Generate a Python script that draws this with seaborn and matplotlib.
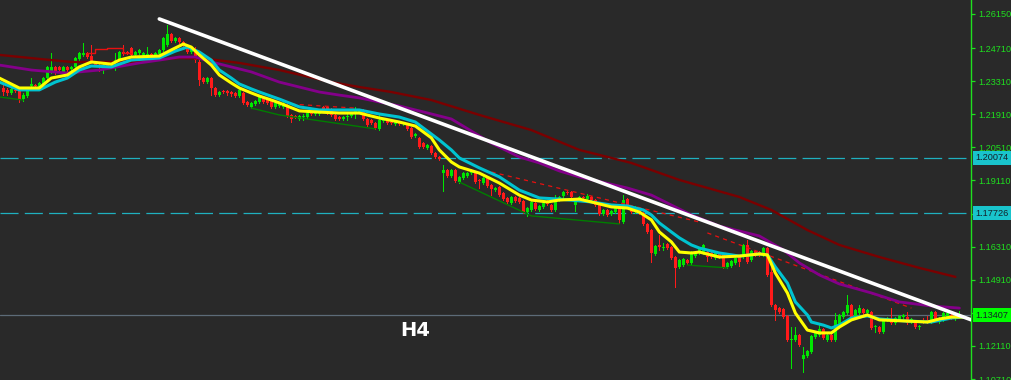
import numpy as np
import pandas as pd
import matplotlib
matplotlib.use("Agg")
import matplotlib.pyplot as plt
import seaborn as sns

# ---------------- data (prices x 1e4) ----------------
OPEN = [12302, 12294, 12281, 12294, 12294, 12255, 12268, 12310, 12315, 12302,
        12319, 12344, 12370, 12391, 12391, 12370, 12391, 12382, 12391, 12425,
        12442, 12450, 12437, 12412, 12399, 12378, 12403, 12399, 12408, 12412,
        12454, 12454, 12471, 12442, 12450, 12442, 12442, 12446, 12442, 12446,
        12463, 12484, 12530, 12501, 12513, 12497, 12475, 12454, 12454, 12412,
        12344, 12327, 12344, 12302, 12272, 12289, 12289, 12285, 12281, 12268,
        12281, 12243, 12222, 12234, 12243, 12260, 12255, 12247, 12222, 12226,
        12222, 12230, 12188, 12183, 12171, 12179, 12179, 12196, 12192, 12192,
        12222, 12222, 12213, 12188, 12179, 12171, 12179, 12183, 12196, 12200,
        12209, 12171, 12167, 12154, 12129, 12162, 12167, 12158, 12150, 12158,
        12150, 12145, 12133, 12099, 12091, 12069, 12048, 12057, 12027, 12010,
        11942, 11955, 11930, 11955, 11904, 11921, 11930, 11942, 11947, 11913,
        11900, 11926, 11892, 11870, 11883, 11858, 11837, 11816, 11841, 11837,
        11824, 11777, 11786, 11816, 11786, 11799, 11824, 11807, 11786, 11828,
        11845, 11862, 11862, 11807, 11828, 11841, 11832, 11841, 11828, 11807,
        11769, 11786, 11769, 11777, 11807, 11735, 11832, 11803, 11777, 11786,
        11773, 11727, 11701, 11600, 11638, 11625, 11642, 11629, 11587, 11545,
        11553, 11574, 11562, 11591, 11604, 11604, 11608, 11604, 11583, 11604,
        11596, 11545, 11549, 11562, 11587, 11587, 11638, 11574, 11612, 11608,
        11596, 11625, 11524, 11384, 11371, 11367, 11338, 11236, 11236, 11257,
        11156, 11168, 11185, 11249, 11257, 11283, 11236, 11257, 11236, 11291,
        11333, 11350, 11384, 11333, 11350, 11367, 11350, 11354, 11291, 11291,
        11270, 11321, 11321, 11308, 11321, 11333, 11333, 11312, 11312, 11291,
        11316, 11321, 11312, 11354, 11312, 11321, 11333, 11342, 11325, 11333]

CLOSE = [12285, 12281, 12298, 12289, 12255, 12272, 12302, 12319, 12310, 12323,
         12344, 12391, 12391, 12370, 12378, 12391, 12378, 12391, 12429, 12450,
         12450, 12433, 12412, 12399, 12395, 12399, 12395, 12408, 12420, 12454,
         12446, 12450, 12442, 12454, 12463, 12450, 12446, 12437, 12450, 12463,
         12513, 12530, 12501, 12513, 12497, 12484, 12454, 12471, 12420, 12336,
         12327, 12344, 12302, 12272, 12285, 12285, 12281, 12277, 12268, 12294,
         12239, 12230, 12239, 12247, 12264, 12243, 12239, 12222, 12239, 12239,
         12239, 12183, 12171, 12179, 12183, 12183, 12196, 12192, 12196, 12200,
         12209, 12196, 12188, 12171, 12171, 12179, 12183, 12192, 12209, 12209,
         12171, 12145, 12154, 12133, 12167, 12167, 12154, 12154, 12158, 12150,
         12154, 12129, 12095, 12107, 12052, 12052, 12061, 12027, 12010, 12002,
         11955, 11930, 11955, 11909, 11926, 11942, 11942, 11955, 11904, 11909,
         11921, 11887, 11875, 11879, 11849, 11832, 11820, 11841, 11824, 11820,
         11777, 11794, 11820, 11790, 11803, 11816, 11811, 11786, 11837, 11841,
         11862, 11858, 11841, 11828, 11841, 11837, 11845, 11828, 11807, 11769,
         11786, 11765, 11782, 11794, 11744, 11828, 11803, 11777, 11799, 11773,
         11727, 11693, 11604, 11634, 11629, 11629, 11625, 11583, 11541, 11574,
         11579, 11562, 11608, 11608, 11621, 11638, 11587, 11587, 11604, 11587,
         11545, 11562, 11570, 11583, 11566, 11638, 11566, 11612, 11596, 11596,
         11625, 11511, 11384, 11363, 11354, 11333, 11236, 11240, 11257, 11215,
         11173, 11190, 11253, 11270, 11283, 11245, 11257, 11236, 11321, 11342,
         11354, 11384, 11329, 11363, 11371, 11350, 11363, 11287, 11295, 11270,
         11321, 11329, 11308, 11329, 11338, 11342, 11308, 11325, 11291, 11295,
         11312, 11312, 11354, 11321, 11329, 11350, 11350, 11329, 11338, 11341]

HIGH = [12315, 12302, 12306, 12298, 12298, 12281, 12306, 12344, 12319, 12327,
        12348, 12395, 12450, 12395, 12395, 12395, 12395, 12395, 12433, 12454,
        12492, 12454, 12484, 12416, 12403, 12403, 12408, 12412, 12450, 12458,
        12484, 12458, 12475, 12458, 12467, 12454, 12475, 12450, 12454, 12467,
        12518, 12568, 12535, 12518, 12518, 12501, 12484, 12475, 12475, 12420,
        12348, 12348, 12348, 12306, 12289, 12294, 12294, 12289, 12285, 12298,
        12285, 12247, 12243, 12251, 12268, 12264, 12260, 12251, 12243, 12243,
        12243, 12234, 12192, 12188, 12188, 12192, 12200, 12200, 12200, 12205,
        12226, 12226, 12217, 12192, 12183, 12183, 12196, 12196, 12222, 12213,
        12213, 12175, 12171, 12158, 12188, 12171, 12171, 12162, 12162, 12162,
        12158, 12150, 12137, 12112, 12095, 12074, 12065, 12061, 12031, 12014,
        11976, 11959, 11959, 11959, 11930, 11947, 11947, 11959, 11951, 11917,
        11926, 11930, 11896, 11883, 11887, 11862, 11841, 11845, 11845, 11841,
        11828, 11799, 11824, 11820, 11807, 11820, 11828, 11811, 11849, 11845,
        11866, 11866, 11866, 11832, 11845, 11845, 11854, 11845, 11832, 11811,
        11790, 11790, 11786, 11799, 11811, 11849, 11837, 11807, 11803, 11790,
        11777, 11731, 11706, 11638, 11680, 11646, 11646, 11634, 11591, 11579,
        11583, 11579, 11612, 11612, 11625, 11642, 11612, 11608, 11608, 11608,
        11600, 11566, 11574, 11587, 11591, 11642, 11659, 11617, 11617, 11612,
        11629, 11629, 11557, 11388, 11376, 11371, 11342, 11291, 11291, 11261,
        11206, 11194, 11257, 11274, 11299, 11287, 11261, 11261, 11350, 11346,
        11359, 11426, 11388, 11367, 11384, 11371, 11367, 11359, 11299, 11295,
        11325, 11333, 11371, 11333, 11342, 11346, 11354, 11329, 11316, 11299,
        11329, 11338, 11359, 11359, 11333, 11354, 11354, 11346, 11342, 11359]

LOW = [12272, 12272, 12277, 12285, 12243, 12247, 12264, 12306, 12302, 12298,
       12315, 12340, 12365, 12361, 12374, 12365, 12370, 12378, 12387, 12420,
       12437, 12429, 12408, 12395, 12374, 12365, 12391, 12395, 12378, 12408,
       12442, 12446, 12437, 12437, 12446, 12437, 12433, 12433, 12437, 12442,
       12458, 12480, 12497, 12497, 12492, 12480, 12450, 12450, 12412, 12315,
       12323, 12323, 12272, 12268, 12268, 12281, 12272, 12268, 12264, 12264,
       12234, 12226, 12217, 12230, 12239, 12239, 12234, 12217, 12217, 12222,
       12217, 12179, 12158, 12175, 12167, 12167, 12175, 12188, 12188, 12188,
       12205, 12192, 12183, 12167, 12167, 12167, 12167, 12179, 12175, 12196,
       12167, 12141, 12150, 12129, 12124, 12158, 12150, 12150, 12145, 12145,
       12145, 12124, 12091, 12095, 12048, 12048, 12044, 12023, 12006, 11997,
       11866, 11926, 11926, 11904, 11900, 11917, 11926, 11938, 11900, 11879,
       11896, 11883, 11849, 11866, 11845, 11828, 11816, 11811, 11820, 11816,
       11773, 11761, 11782, 11786, 11782, 11794, 11807, 11782, 11782, 11824,
       11841, 11854, 11837, 11782, 11824, 11832, 11828, 11824, 11803, 11765,
       11765, 11761, 11765, 11773, 11731, 11731, 11799, 11773, 11773, 11769,
       11722, 11689, 11566, 11596, 11617, 11617, 11621, 11579, 11460, 11541,
       11549, 11557, 11557, 11587, 11600, 11600, 11570, 11583, 11579, 11583,
       11541, 11541, 11545, 11557, 11549, 11583, 11562, 11570, 11591, 11591,
       11591, 11507, 11380, 11321, 11350, 11329, 11232, 11118, 11232, 11211,
       11101, 11164, 11181, 11245, 11253, 11240, 11232, 11232, 11232, 11287,
       11329, 11346, 11325, 11329, 11346, 11346, 11346, 11283, 11270, 11266,
       11266, 11316, 11304, 11304, 11316, 11329, 11304, 11308, 11287, 11283,
       11308, 11308, 11308, 11316, 11308, 11316, 11329, 11325, 11321, 11329]

# moving averages (bar index, price x 1e4)
MA_YELLOW_IDX = [-1, 4, 9, 12, 16, 19, 22, 27, 29, 32, 39, 42, 45, 47, 49, 52, 54, 57, 59, 62,
                 64, 67, 69, 74, 79, 84, 89, 94, 99, 103, 107, 109, 112, 114, 119, 124, 129, 132, 136, 139,
                 144, 147, 152, 156, 159, 162, 164, 167, 169, 172, 174, 179, 184, 189, 191, 193, 196, 198, 201, 204,
                 207, 209, 212, 216, 219, 226, 231, 234, 237, 240]
MA_YELLOW = [12344, 12302, 12302, 12344, 12357, 12391, 12412, 12403, 12420, 12433,
             12437, 12463, 12488, 12475, 12442, 12399, 12357, 12323, 12302, 12281,
             12268, 12251, 12239, 12205, 12200, 12196, 12196, 12175, 12158, 12141,
             12091, 12040, 11989, 11968, 11942, 11900, 11849, 11828, 11820, 11828,
             11832, 11820, 11799, 11794, 11777, 11744, 11693, 11651, 11608, 11604,
             11608, 11587, 11591, 11600, 11596, 11519, 11435, 11350, 11278, 11266,
             11266, 11291, 11321, 11342, 11321, 11316, 11312, 11325, 11333, 11333]

MA_CYAN_IDX = [-1, 4, 9, 13, 16, 19, 22, 27, 29, 32, 39, 43, 46, 49, 52, 54, 57, 59, 62, 64,
               69, 74, 79, 89, 94, 99, 103, 109, 112, 114, 119, 124, 129, 134, 139, 147, 152, 156, 160, 162,
               164, 167, 169, 172, 174, 179, 184, 189, 191, 193, 196, 198, 201, 202, 205, 207, 209, 212, 216, 219,
               226, 232, 237, 240]
MA_CYAN = [12327, 12294, 12294, 12327, 12344, 12378, 12395, 12391, 12403, 12420,
           12429, 12458, 12475, 12454, 12420, 12378, 12344, 12319, 12298, 12285,
           12255, 12222, 12209, 12209, 12192, 12179, 12158, 12082, 12040, 12006,
           11964, 11926, 11870, 11837, 11832, 11820, 11807, 11803, 11786, 11765,
           11731, 11693, 11668, 11638, 11625, 11604, 11591, 11600, 11596, 11545,
           11477, 11397, 11342, 11312, 11299, 11287, 11299, 11329, 11338, 11325,
           11316, 11312, 11329, 11333]

MA_PURPLE_IDX = [-1, 7, 16, 24, 34, 39, 44, 48, 52, 57, 62, 69, 74, 79, 84, 89, 94, 99, 104, 112,
                 122, 129, 134, 139, 144, 156, 162, 167, 172, 179, 184, 189, 195, 199, 204, 209, 217, 224, 232, 239]
MA_PURPLE = [12399, 12378, 12365, 12378, 12408, 12420, 12433, 12433, 12412, 12391,
             12370, 12327, 12306, 12285, 12272, 12260, 12243, 12226, 12205, 12171,
             12069, 12010, 11985, 11951, 11926, 11879, 11849, 11807, 11765, 11718,
             11697, 11676, 11617, 11562, 11511, 11473, 11435, 11397, 11380, 11371]

MA_DARKRED_IDX = [-1, 9, 17, 32, 44, 51, 59, 69, 82, 89, 97, 107, 119, 132, 144, 157, 169, 184, 192, 201,
                  209, 219, 229, 238]
MA_DARKRED = [12442, 12425, 12412, 12412, 12429, 12425, 12408, 12378, 12327, 12306,
              12285, 12251, 12188, 12124, 12040, 11985, 11913, 11841, 11786, 11701,
              11638, 11587, 11541, 11503]

TREND_IDX = [39, 242]
TREND_PRICE = [1.2594, 1.1321]

RED_STEP_IDX = [21, 23, 23, 26, 26, 30, 30, 32]
RED_STEP_PRICE = [1.2450, 1.2450, 1.2467, 1.2467, 1.2471, 1.2471, 1.2450, 1.2450]

RED_DASH_SEGS = [([72, 88], [1.2234, 1.2217]),
                 ([120, 174], [1.1955, 1.1735]),
                 ([176, 227], [1.1689, 1.1371])]
GREEN_SEGS = [([-1, 5], [1.2264, 1.2251]),
              ([62, 69, 93], [1.2217, 1.2188, 1.2129]),
              ([114, 132, 154], [1.1904, 1.1761, 1.1727]),
              ([171, 181], [1.1553, 1.1541])]

HLINES_DASHED = [1.20074, 1.17726]
HLINE_BID = 1.13407
YTICKS = [1.26150, 1.24710, 1.23310, 1.21910, 1.20510, 1.19110, 1.17710,
          1.16310, 1.14910, 1.13510, 1.12110, 1.10710]
HIDDEN_TICKS = [1.17710, 1.13510]   # covered by the price boxes
TIMEFRAME = "H4"

# ---------------- style ----------------
BG = "#292929"
GREEN = "#00e600"
RED = "#ff1a1a"
AXIS_GREEN = "#1fe01f"

sns.set_theme(style="dark", rc={"axes.facecolor": BG, "figure.facecolor": BG})
plt.rcParams["font.family"] = ["Liberation Sans", "DejaVu Sans"]
plt.rcParams["lines.scale_dashes"] = False

fig = plt.figure(figsize=(10.12, 3.8), dpi=100, facecolor=BG)
ax = fig.add_axes([0, 0, 971 / 1012, 1], facecolor=BG)

o = np.array(OPEN) / 1e4
c = np.array(CLOSE) / 1e4
h = np.array(HIGH) / 1e4
l = np.array(LOW) / 1e4
idx = np.arange(len(o))
cols = np.where(c >= o, GREEN, RED)

# horizontal lines
for p in HLINES_DASHED:
    ax.axhline(p, color="#1fb0bf", lw=0.9, dashes=(13, 4.5), zorder=1)
ax.axhline(HLINE_BID, color="#5d6b78", lw=0.9, zorder=1)

# candles
ax.vlines(idx, l, h, colors=cols, lw=0.7, zorder=2, antialiased=False)
body_lo = np.minimum(o, c)
body_h = np.maximum(np.abs(c - o), 0.00005)
ax.bar(idx, body_h, bottom=body_lo, width=0.72, color=cols, linewidth=0, zorder=3,
       antialiased=False)

# thin indicator lines
for xs, ys in GREEN_SEGS:
    ax.plot(xs, ys, color="#007d00", lw=1.0, zorder=3.5)
for xs, ys in RED_DASH_SEGS:
    ax.plot(xs, ys, color="#e81010", lw=0.9, dashes=(3, 3), zorder=3.5)
ax.plot(RED_STEP_IDX, RED_STEP_PRICE, color="#e81010", lw=1.0, zorder=3.5)

# moving averages
ma_df = [
    (MA_DARKRED_IDX, MA_DARKRED, "#7a0000", 1.7),
    (MA_PURPLE_IDX, MA_PURPLE, "#84008a", 2.0),
    (MA_CYAN_IDX, MA_CYAN, "#00c3d0", 2.2),
    (MA_YELLOW_IDX, MA_YELLOW, "#ffff00", 2.2),
]
for k, (xs, ys, colr, lw) in enumerate(ma_df):
    df = pd.DataFrame({"bar": xs, "price": np.array(ys) / 1e4})
    sns.lineplot(data=df, x="bar", y="price", ax=ax, color=colr, lw=lw,
                 sort=False, estimator=None, zorder=4 + k * 0.1)

# trend line
sns.lineplot(x=TREND_IDX, y=TREND_PRICE, ax=ax, color="white", lw=2.6,
             sort=False, estimator=None, zorder=6)

ax.set_xlim(-0.825, 241.9)
ax.set_ylim(1.10668, 1.26742)
ax.set_xlabel("")
ax.set_ylabel("")
ax.set_xticks([])
ax.yaxis.tick_right()
ax.set_yticks(YTICKS)
ax.set_yticklabels(["" if v in HIDDEN_TICKS else f"{v:.5f}" for v in YTICKS])
ax.tick_params(axis="y", colors=AXIS_GREEN, length=3, width=0.9, pad=2,
               labelsize=6.6, labelcolor=AXIS_GREEN, direction="out")
ax.grid(False)
for s in ["left", "top", "bottom"]:
    ax.spines[s].set_visible(False)
ax.spines["right"].set_color(AXIS_GREEN)
ax.spines["right"].set_linewidth(1.0)

# price boxes
for p, fc in [(HLINES_DASHED[0], "#19c4cc"), (HLINES_DASHED[1], "#19c4cc"), (HLINE_BID, "#00ff00")]:
    ax.annotate(f"{p:.5f}", xy=(1.0, p), xycoords=ax.get_yaxis_transform(),
                xytext=(3.2, 0), textcoords="offset points", ha="left", va="center",
                fontsize=6.6, color="#14202a", annotation_clip=False, zorder=10,
                bbox=dict(boxstyle="square,pad=0.28", fc=fc, ec="none"))

fig.text(415 / 1012, 1 - 330 / 380, TIMEFRAME, color="white", fontsize=14,
         fontweight="bold", ha="center", va="center", family=["DejaVu Sans"])

fig.savefig("out.png", dpi=100, facecolor=BG)
